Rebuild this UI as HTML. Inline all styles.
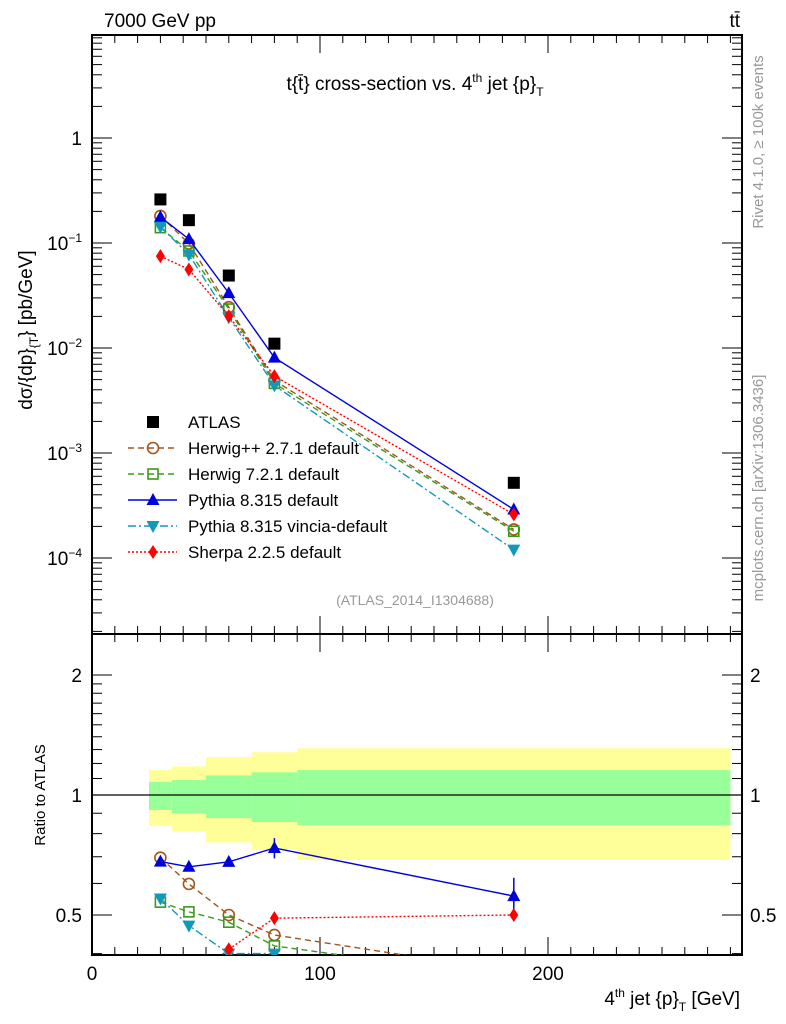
<!DOCTYPE html>
<html><head><meta charset="utf-8"><style>
html,body{margin:0;padding:0;background:#fff;}
svg{display:block;font-family:"Liberation Sans",Arial,sans-serif;}
</style></head><body>
<svg id="chart" width="786" height="1024" viewBox="0 0 786 1024" xmlns="http://www.w3.org/2000/svg">
<text x="104" y="27" font-size="19">7000 GeV pp</text>
<text x="740" y="27" font-size="19" text-anchor="end">tt̄</text>
<text x="415" y="90" font-size="19" text-anchor="middle">t{t̄} cross-section vs. 4<tspan font-size="12" dy="-8">th</tspan><tspan dy="8"> jet {p}</tspan><tspan font-size="12" dy="6">T</tspan></text>
<text transform="translate(32,330) rotate(-90)" font-size="19" text-anchor="middle">dσ/{dp}<tspan font-size="12" dy="6">{T</tspan><tspan dy="-6">} [pb/GeV]</tspan></text>
<text transform="translate(45,795) rotate(-90)" font-size="15" text-anchor="middle">Ratio to ATLAS</text>
<text x="740" y="1005" font-size="19" text-anchor="end">4<tspan font-size="12" dy="-8">th</tspan><tspan dy="8"> jet {p}</tspan><tspan font-size="12" dy="6">T</tspan><tspan dy="-6"> [GeV]</tspan></text>
<text transform="translate(763,142) rotate(-90)" font-size="15" fill="#999" text-anchor="middle">Rivet 4.1.0, ≥ 100k events</text>
<text transform="translate(763,488) rotate(-90)" font-size="15" fill="#999" text-anchor="middle">mcplots.cern.ch [arXiv:1306.3436]</text>
<text x="415" y="605" font-size="14" fill="#999" text-anchor="middle">(ATLAS_2014_I1304688)</text>
<g id="g"></g>
</svg>
<script>
const xCenters = [30, 42.5, 60, 80, 185];
const binEdges = [25, 35, 50, 70, 90, 280];
const atlas = [0.26, 0.165, 0.049, 0.011, 5.2e-4];
const herwigpp = [0.181, 0.0987, 0.0245, 0.0049, 1.87e-4];
const herwig7 = [0.140, 0.084, 0.0235, 0.0046, 1.8e-4];
const pythia = [0.177, 0.109, 0.0333, 0.0081, 2.9e-4];
const vincia = [0.143, 0.0776, 0.0196, 0.0044, 1.2e-4];
const sherpa = [0.075, 0.056, 0.0201, 0.0054, 2.6e-4];
const pythiaRatioErr = [0.012, 0.01, 0.015, 0.043, 0.062];
const bandYellowUp = [1.155, 1.18, 1.245, 1.28, 1.31];
const bandYellowDn = [0.836, 0.81, 0.76, 0.73, 0.687];
const bandGreenUp = [1.078, 1.09, 1.12, 1.14, 1.155];
const bandGreenDn = [0.917, 0.90, 0.875, 0.855, 0.84];
const xTickLabels = [0, 100, 200];
const yMainLabels = [1, 0.1, 0.01, 0.001, 0.0001];
const yMainLabelText = ["1", "10<tspan font-size='12' dy='-8'>−1</tspan>", "10<tspan font-size='12' dy='-8'>−2</tspan>", "10<tspan font-size='12' dy='-8'>−3</tspan>", "10<tspan font-size='12' dy='-8'>−4</tspan>"];
const yRatioLabels = [0.5, 1, 2];

const L=92,R=742,T=35,MB=634,RB=955;
const X=v=>L+(v)*2.28;
const YM=v=>138-105*Math.log10(v);
const YR=v=>795-398.6*Math.log10(v);
const ns="http://www.w3.org/2000/svg";
const g=document.getElementById('g');
function el(tag,attrs,parent){const e=document.createElementNS(ns,tag);for(const k in attrs)e.setAttribute(k,attrs[k]);(parent||g).appendChild(e);return e;}

const defs=el('defs',{});
const c1=el('clipPath',{id:'cm'},defs);el('rect',{x:L,y:T,width:R-L,height:MB-T},c1);
const c2=el('clipPath',{id:'cr'},defs);el('rect',{x:L,y:MB,width:R-L,height:RB-MB},c2);

const bandG=el('g',{'clip-path':'url(#cr)'});


for(let i=0;i<5;i++){
  const x0=X(binEdges[i]),x1=X(binEdges[i+1]);
  const y=el('rect',{x:x0,y:YR(bandYellowUp[i]),width:x1-x0,height:YR(bandYellowDn[i])-YR(bandYellowUp[i]),fill:'#ffff99'},bandG);
  
  
  const gr=el('rect',{x:x0,y:YR(bandGreenUp[i]),width:x1-x0,height:YR(bandGreenDn[i])-YR(bandGreenUp[i]),fill:'#99ff99'},bandG);
  
  
}
el('line',{x1:L,x2:R,y1:YR(1),y2:YR(1),stroke:'#000','stroke-width':1.2});

const f1=el('rect',{x:L,y:T,width:R-L,height:MB-T,fill:'none',stroke:'#000','stroke-width':2});


const f2=el('rect',{x:L,y:MB,width:R-L,height:RB-MB,fill:'none',stroke:'#000','stroke-width':2});



for(let v=0;v<=285;v+=10){
  const big=v%100===0, len=big?18:8;
  const x=X(v);
  [[T,1],[MB,-1],[MB,1],[RB,-1]].forEach(([y0,d])=>el('line',{x1:x,x2:x,y1:y0,y2:y0+d*len,stroke:'#000','stroke-width':1}));
}
xTickLabels.forEach(v=>{const t=el('text',{x:X(v),y:980,'font-size':19,'text-anchor':'middle'});t.textContent=v;
});

for(let e=-5;e<=0;e++){for(let m=1;m<=9;m++){const v=m*Math.pow(10,e);const y=YM(v);if(y<T||y>MB)continue;const len=m===1?20:10;
 el('line',{x1:L,x2:L+len,y1:y,y2:y,stroke:'#000'});el('line',{x1:R,x2:R-len,y1:y,y2:y,stroke:'#000'});}}
yMainLabels.forEach((v,i)=>{const t=el('text',{x:82,y:YM(v)+7,'font-size':19,'text-anchor':'end'});t.innerHTML=yMainLabelText[i];
});

const rt=[0.4,0.5,0.6,0.7,0.8,0.9,1,2];
for(let k=1.1;k<2;k+=0.1)rt.push(k);
rt.forEach(v=>{const y=YR(v);const len=[0.5,1,2].some(k=>Math.abs(k-v)<1e-6)?20:10;
 el('line',{x1:L,x2:L+len,y1:y,y2:y,stroke:'#000'});el('line',{x1:R,x2:R-len,y1:y,y2:y,stroke:'#000'});});
yRatioLabels.forEach(v=>{[82,750].forEach((x,j)=>{const t=el('text',{x:x,y:YR(v)+7,'font-size':19,'text-anchor':j?'start':'end'});t.textContent=v;
});});

function marker(type,x,y,color,parent){
  const s=6;
  if(type==='sq') return el('rect',{x:x-s,y:y-s,width:2*s,height:2*s,fill:color},parent);
  if(type==='osq') return el('rect',{x:x-5,y:y-5,width:10,height:10,fill:'none',stroke:color,'stroke-width':1.6},parent);
  if(type==='oc') return el('circle',{cx:x,cy:y,r:5.5,fill:'none',stroke:color,'stroke-width':1.6},parent);
  if(type==='tu') return el('polygon',{points:`${x},${y-7} ${x-6.5},${y+5} ${x+6.5},${y+5}`,fill:color},parent);
  if(type==='td') return el('polygon',{points:`${x},${y+7} ${x-6.5},${y-5} ${x+6.5},${y-5}`,fill:color},parent);
  if(type==='di') return el('polygon',{points:`${x},${y-7} ${x-4.5},${y} ${x},${y+7} ${x+4.5},${y}`,fill:color},parent);
}
const series=[
 {name:'herwigpp',vals:herwigpp,color:'#a0561c',dash:'6,4',m:'oc',label:'Herwig++ 2.7.1 default'},
 {name:'herwig7',vals:herwig7,color:'#3a9a1a',dash:'6,4',m:'osq',label:'Herwig 7.2.1 default'},
 {name:'pythia',vals:pythia,color:'#0000dd',dash:'',m:'tu',label:'Pythia 8.315 default'},
 {name:'vincia',vals:vincia,color:'#1199bb',dash:'8,3,2,3',m:'td',label:'Pythia 8.315 vincia-default'},
 {name:'sherpa',vals:sherpa,color:'#ff0000',dash:'2,2',m:'di',label:'Sherpa 2.2.5 default'}
];
const mg=el('g',{'clip-path':'url(#cm)'});
const rg=el('g',{'clip-path':'url(#cr)'});
series.forEach(s=>{
  const pm=xCenters.map((x,i)=>X(x)+','+YM(s.vals[i])).join(' ');
  const l=el('polyline',{points:pm,fill:'none',stroke:s.color,'stroke-width':1.4,'stroke-dasharray':s.dash},mg);
  
  const pr=xCenters.map((x,i)=>X(x)+','+YR(s.vals[i]/atlas[i])).join(' ');
  const l2=el('polyline',{points:pr,fill:'none',stroke:s.color,'stroke-width':1.4,'stroke-dasharray':s.dash},rg);
  
  xCenters.forEach((x,i)=>{
    const mk=marker(s.m,X(x),YM(s.vals[i]),s.color,mg);
    
    if(s.name==='pythia'){const r=s.vals[i]/atlas[i],e=pythiaRatioErr[i];
      el('line',{x1:X(x),x2:X(x),y1:YR(r+e),y2:YR(r-e),stroke:s.color,'stroke-width':1.5},rg);}
    const mk2=marker(s.m,X(x),YR(s.vals[i]/atlas[i]),s.color,rg);
    
  });
});
xCenters.forEach((x,i)=>{const mk=marker('sq',X(x),YM(atlas[i]),'#000',mg);
 });

const lg=el('g',{});

const ly0=422;
marker('sq',153,ly0,'#000',lg);
let t0=el('text',{x:188,y:ly0+6,'font-size':17},lg);t0.textContent='ATLAS';
series.forEach((s,i)=>{const y=ly0+26*(i+1);
 el('line',{x1:128,x2:177,y1:y,y2:y,stroke:s.color,'stroke-width':1.4,'stroke-dasharray':s.dash},lg);
 marker(s.m,153,y,s.color,lg);
 const t=el('text',{x:188,y:y+6,'font-size':17},lg);t.textContent=s.label;
 });
</script>
</body></html>
